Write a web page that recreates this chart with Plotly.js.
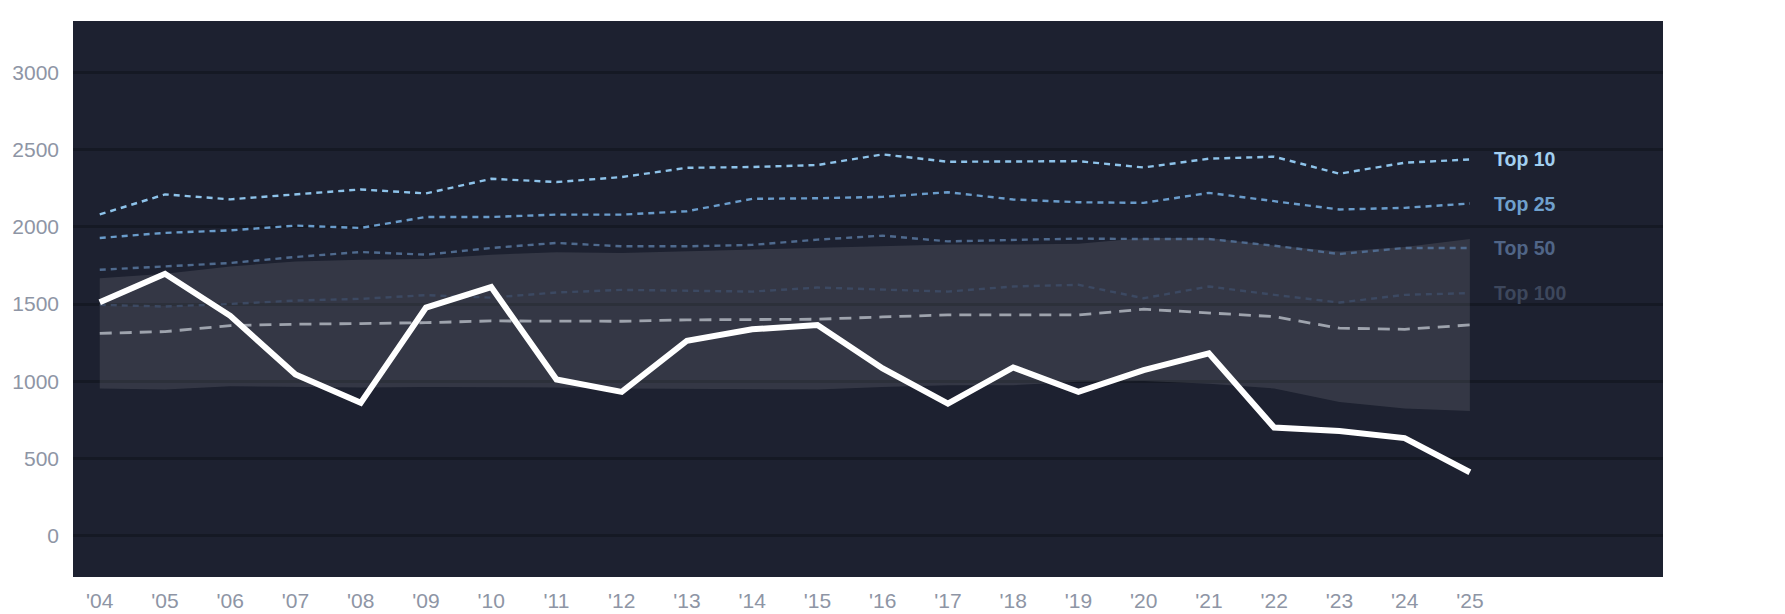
<!DOCTYPE html>
<html>
<head>
<meta charset="utf-8">
<script src="https://cdn.plot.ly/plotly-3.0.1.min.js"></script>
<style>
  html, body { margin: 0; padding: 0; background: #ffffff; }
  #chart { width: 1785px; height: 614px; }
</style>
</head>
<body>
<div id="chart"></div>
<script>
// Years and short tick labels
const years = [2004, 2005, 2006, 2007, 2008, 2009, 2010, 2011, 2012, 2013, 2014,
               2015, 2016, 2017, 2018, 2019, 2020, 2021, 2022, 2023, 2024, 2025];
const yearLabels = ["'04", "'05", "'06", "'07", "'08", "'09", "'10", "'11", "'12", "'13", "'14",
                    "'15", "'16", "'17", "'18", "'19", "'20", "'21", "'22", "'23", "'24", "'25"];

// Reference lines
const top10 = [2080, 2210, 2178, 2210, 2242, 2216, 2311, 2290, 2322, 2382, 2387,
               2400, 2469, 2421, 2421, 2425, 2384, 2441, 2454, 2344, 2415, 2436];
const top25 = [1928, 1961, 1977, 2008, 1993, 2064, 2064, 2079, 2079, 2101, 2181,
               2185, 2194, 2224, 2177, 2159, 2155, 2220, 2166, 2112, 2123, 2151];
const top50 = [1722, 1744, 1766, 1805, 1837, 1820, 1863, 1896, 1874, 1874, 1883,
               1917, 1943, 1906, 1917, 1924, 1921, 1921, 1878, 1824, 1863, 1863];
const top100 = [1495, 1484, 1501, 1523, 1534, 1558, 1542, 1575, 1592, 1586, 1581,
                1607, 1592, 1581, 1614, 1625, 1538, 1614, 1560, 1510, 1560, 1571];
const median = [1311, 1322, 1361, 1370, 1374, 1380, 1391, 1391, 1389, 1398, 1398,
                1402, 1417, 1430, 1430, 1430, 1467, 1445, 1419, 1344, 1337, 1365];

// Shaded range
const bandHigh = [1668, 1696, 1744, 1776, 1787, 1792, 1820, 1835, 1831, 1841, 1852,
                  1863, 1874, 1885, 1885, 1891, 1928, 1928, 1880, 1840, 1870, 1922];
const bandLow = [954, 947, 969, 964, 960, 964, 964, 960, 954, 951, 947,
                 947, 964, 975, 975, 997, 1003, 985, 954, 867, 824, 809];

// Main series
const mainLine = [1512, 1696, 1424, 1045, 861, 1477, 1610, 1012, 932, 1263, 1337,
                  1365, 1084, 856, 1090, 932, 1073, 1181, 701, 679, 633, 412];

const refLines = [
    { name: 'Top 100', y: top100, color: '#3c4962', text: '#3d475c' },
    { name: 'Top 50', y: top50, color: '#4f6a8e', text: '#506587' },
    { name: 'Top 25', y: top25, color: '#6a9ccb', text: '#6fa0cd' },
    { name: 'Top 10', y: top10, color: '#8ec3ea', text: '#a2cff1' }
];

const traces = [
    {
        x: years, y: bandLow, type: 'scatter', mode: 'lines',
        line: { width: 0, color: 'rgba(0,0,0,0)' },
        hoverinfo: 'skip', showlegend: false
    },
    {
        x: years, y: bandHigh, type: 'scatter', mode: 'lines',
        fill: 'tonexty', fillcolor: 'rgba(255,255,255,0.1)',
        line: { width: 0, color: 'rgba(0,0,0,0)' },
        hoverinfo: 'skip', showlegend: false
    }
];

refLines.forEach(r => {
    traces.push({
        x: years, y: r.y, name: r.name, type: 'scatter', mode: 'lines',
        line: { color: r.color, width: 2.4, dash: '6px,5px' },
        showlegend: false
    });
});

traces.push({
    x: years, y: median, name: 'Median', type: 'scatter', mode: 'lines',
    line: { color: '#9ea3ad', width: 2.8, dash: '12px,8px' },
    showlegend: false
});

traces.push({
    x: years, y: mainLine, name: 'Value', type: 'scatter', mode: 'lines',
    line: { color: '#ffffff', width: 6 },
    showlegend: false
});

const annotations = refLines.map(r => ({
    x: years[years.length - 1],
    y: r.y[r.y.length - 1],
    text: r.name,
    xanchor: 'left',
    yanchor: 'middle',
    xshift: 22,
    showarrow: false,
    font: { family: 'Liberation Sans, Arial, sans-serif', size: 19.5, color: r.text, weight: 'bold' }
}));

const layout = {
    width: 1785,
    height: 614,
    margin: { l: 73, r: 122, t: 21, b: 37 },
    paper_bgcolor: '#ffffff',
    plot_bgcolor: '#1d2130',
    font: { family: 'Liberation Sans, Arial, sans-serif', color: '#8e95a5' },
    showlegend: false,
    xaxis: {
        range: [2003.59, 2027.96],
        tickvals: years,
        ticktext: yearLabels,
        showgrid: false,
        zeroline: false,
        showline: false,
        ticks: '',
        ticklabelstandoff: 9,
        tickfont: { size: 21, color: '#8e95a5' }
    },
    yaxis: {
        range: [-266, 3332],
        tickvals: [0, 500, 1000, 1500, 2000, 2500, 3000],
        gridcolor: '#151924',
        gridwidth: 2.5,
        zeroline: false,
        showline: false,
        ticks: '',
        ticklabelstandoff: 13,
        tickfont: { size: 21, color: '#8e95a5' }
    },
    annotations: annotations
};

Plotly.newPlot('chart', traces, layout, { displayModeBar: false, responsive: false });
</script>
</body>
</html>
